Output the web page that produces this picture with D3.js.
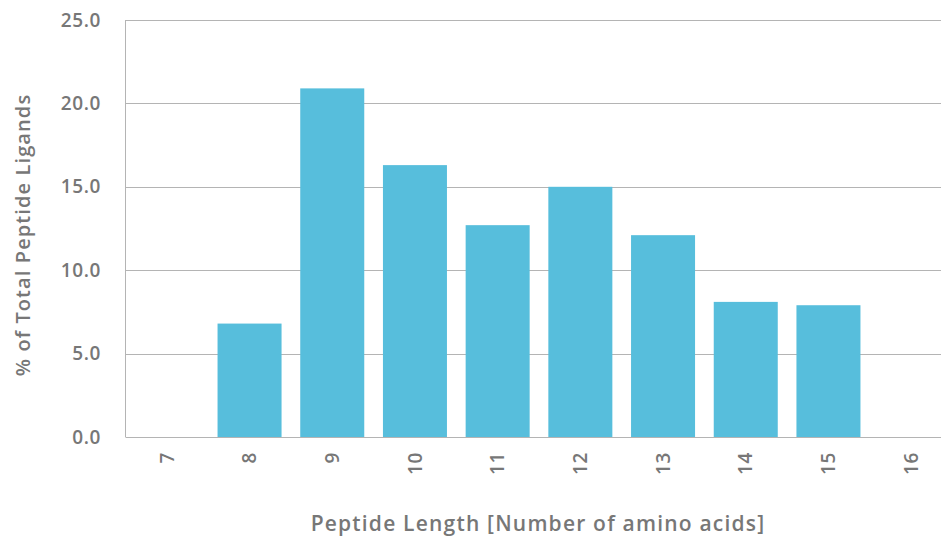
<!DOCTYPE html>
<html>
<head>
<meta charset="utf-8">
<script src="https://cdn.jsdelivr.net/npm/d3@7"></script>
<style>
  body { margin: 0; background: #fff; }
  text { font-family: "Open Sans", "Noto Sans", sans-serif; fill: #777; font-weight: 600; letter-spacing: 0.6px; }
</style>
</head>
<body>
<svg id="chart"></svg>
<script>
// Data
const lengths = ['7', '8', '9', '10', '11', '12', '13', '14', '15', '16'];
const percents = [0, 6.8, 20.9, 16.3, 12.7, 15.0, 12.1, 8.1, 7.9, 0];
const yTicks = [0, 5, 10, 15, 20, 25];

const width = 941, height = 539;
const margin = { top: 20, left: 125.5, bottom: 102 };
const step = 82.7;

const svg = d3.select('#chart')
  .attr('width', width)
  .attr('height', height);

// X scale runs a bit past the right edge (chart is cropped there)
const xScale = d3.scaleBand()
  .domain(lengths)
  .range([margin.left, margin.left + step * lengths.length])
  .paddingInner(0.226)
  .paddingOuter(0.113);

const yScale = d3.scaleLinear()
  .domain([0, 25])
  .range([height - margin.bottom, margin.top]);

// Gridlines
svg.append('g')
  .selectAll('line')
  .data(yTicks)
  .join('line')
  .attr('x1', margin.left)
  .attr('x2', width)
  .attr('y1', d => Math.round(yScale(d)) + 0.5)
  .attr('y2', d => Math.round(yScale(d)) + 0.5)
  .attr('stroke', '#b4b4b4')
  .attr('stroke-width', 1);

// Left axis line
svg.append('line')
  .attr('x1', margin.left)
  .attr('x2', margin.left)
  .attr('y1', yScale(25))
  .attr('y2', yScale(0))
  .attr('stroke', '#b4b4b4');

// Bars
const data = lengths.map((l, i) => ({ length: l, value: percents[i] }));
svg.append('g')
  .selectAll('rect')
  .data(data.filter(d => d.value > 0))
  .join('rect')
  .attr('x', d => xScale(d.length))
  .attr('width', xScale.bandwidth())
  .attr('y', d => yScale(d.value))
  .attr('height', d => yScale(0) - yScale(d.value))
  .attr('fill', '#57bedc');

// Y tick labels
svg.append('g')
  .selectAll('text')
  .data(yTicks)
  .join('text')
  .attr('x', 101)
  .attr('y', d => yScale(d))
  .attr('dy', '0.35em')
  .attr('text-anchor', 'end')
  .style('font-size', '19px')
  .text(d3.format('.1f'));

// X tick labels, rotated
svg.append('g')
  .selectAll('text')
  .data(lengths)
  .join('text')
  .attr('transform', d => `translate(${xScale(d) + xScale.bandwidth() / 2},452) rotate(-90)`)
  .attr('text-anchor', 'end')
  .attr('dy', '0.35em')
  .style('font-size', '19px')
  .text(d => d);

// Axis titles
svg.append('text')
  .attr('x', 538)
  .attr('y', 524)
  .attr('dy', '0.35em')
  .attr('text-anchor', 'middle')
  .style('font-size', '21px')
  .style('letter-spacing', '1.2px')
  .text('Peptide Length [Number of amino acids]');

svg.append('text')
  .attr('transform', 'translate(23,235) rotate(-90)')
  .attr('dy', '0.35em')
  .attr('text-anchor', 'middle')
  .style('font-size', '20px')
  .style('letter-spacing', '1.1px')
  .text('% of Total Peptide Ligands');
</script>
</body>
</html>
